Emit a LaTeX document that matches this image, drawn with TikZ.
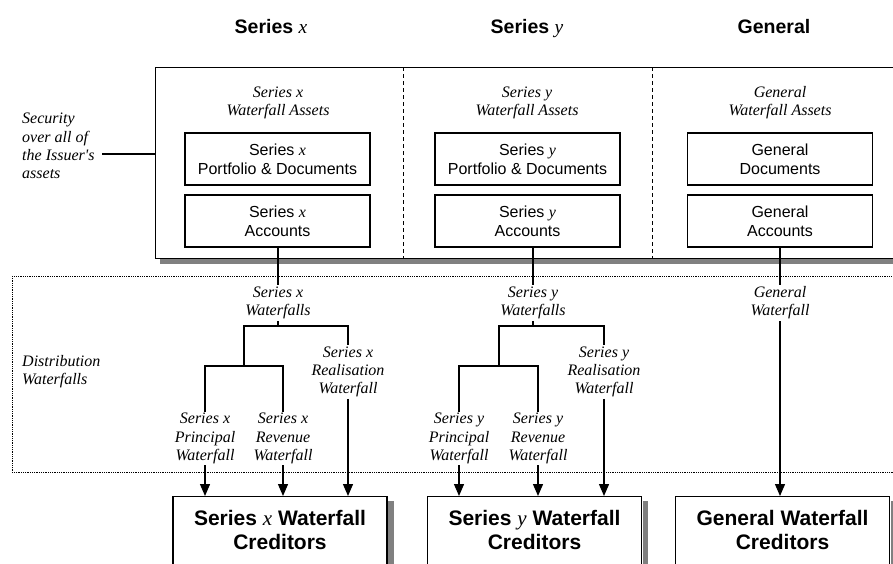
\documentclass[tikz,border=0pt]{standalone}
\usepackage{fontspec}
\setmainfont{Liberation Serif}
\setsansfont{Liberation Sans}
\setmonofont{Liberation Serif}
\usetikzlibrary{arrows.meta,calc}
\newcommand{\serx}{{\rmfamily\mdseries\itshape x}}
\newcommand{\sery}{{\rmfamily\mdseries\itshape y}}
\newcommand{\straightq}{{\ttfamily\itshape\char39}}
\definecolor{shadowgray}{gray}{0.5}
\begin{document}
\begin{tikzpicture}[x=1pt,y=-1pt,
  hdr/.style={font=\fontsize{19.5}{22}\selectfont\sffamily\bfseries, inner sep=0pt},
  lab/.style={font=\fontsize{16}{18.2}\selectfont\rmfamily\itshape, align=center, inner sep=1.5pt},
  sidelab/.style={font=\fontsize{16}{18.3}\selectfont\rmfamily\itshape, align=left, inner sep=0pt, anchor=north west},
  inbox/.style={draw, line width=1.1pt, fill=white, minimum width=185pt, minimum height=52pt, inner sep=0pt, align=center, font=\fontsize{16}{19}\selectfont\sffamily},
  credbox/.style={draw, line width=1.2pt, fill=white, minimum width=214pt, minimum height=110pt, inner sep=0pt, anchor=north},
  credtext/.style={font=\fontsize{21}{24}\selectfont\sffamily\bfseries, align=center, inner sep=0pt},
  conn/.style={line width=1.3pt},
  arr/.style={line width=1.3pt, -{Triangle[width=10pt,length=12pt]}},
  divider/.style={line width=0.9pt, dash pattern=on 4pt off 3pt},
  dotbox/.style={line width=0.8pt, dash pattern=on 0.9pt off 0.9pt}
]
\useasboundingbox (0,0) rectangle (893,563);
\clip (0,0) rectangle (893,563);

% headers
\node[hdr, anchor=base] (hx) at (271,33.5) {Series \serx};
\node[hdr, anchor=base] (hy) at (527,33.5) {Series \sery};
\node[hdr, anchor=base] (hg) at (774,33.5) {General};

% big asset box with shadow
\fill[shadowgray] (160,72) rectangle (920,263.5);
\node[draw, fill=white, line width=1.2pt, minimum width=760pt, minimum height=191pt, inner sep=0pt, anchor=north west] (big) at (155,67) {};
\draw[divider] (403,67) -- (403,258);
\draw[divider] (652,67) -- (652,258);

% distribution area
\draw[dotbox] (12,276) rectangle (920,472);

% side labels
\node[sidelab] (sec) at (22,113) {Security\\over all of\\the Issuer\straightq s\\assets};
\coordinate (secA) at (102,154);
\draw[conn] (secA) -- (secA -| big.west);
\node[sidelab] (dist) at (22,355) {Distribution\\Waterfalls};

% asset group labels
\node[lab] (ax) at (278,103) {Series x\\Waterfall Assets};
\node[lab] (ay) at (527,103) {Series y\\Waterfall Assets};
\node[lab] (ag) at (780,103) {General\\Waterfall Assets};

% inner boxes
\node[inbox] (pdx) at (277.5,159) {Series \serx\\Portfolio \& Documents};
\node[inbox] (acx) at (277.5,221) {Series \serx\\Accounts};
\node[inbox] (pdy) at (527.5,159) {Series \sery\\Portfolio \& Documents};
\node[inbox] (acy) at (527.5,221) {Series \sery\\Accounts};
\node[inbox] (gdoc) at (780,159) {General\\Documents};
\node[inbox] (gacc) at (780,221) {General\\Accounts};

% creditor boxes
\node[credbox] (cx) at (280,496) {};
\node[credbox] (cy) at (534.5,496) {};
\node[credbox] (cg) at (782.5,496) {};
\fill[shadowgray] ($(cx.north east)+(0.6,5)$) rectangle ($(cx.south east)+(6,0)$);
\fill[shadowgray] ($(cy.north east)+(0.6,5)$) rectangle ($(cy.south east)+(6,0)$);
\fill[shadowgray] ($(cg.north east)+(0.6,5)$) rectangle ($(cg.south east)+(6,0)$);
\node[credtext] (tcx) at ($(cx.north)+(0,34)$) {Series \serx{} Waterfall\\Creditors};
\node[credtext] (tcy) at ($(cy.north)+(0,34)$) {Series \sery{} Waterfall\\Creditors};
\node[credtext] (tcg) at ($(cg.north)+(0,34)$) {General Waterfall\\Creditors};

% ---- Series x waterfalls
\node[lab] (wfx) at (278,303) {Series x\\Waterfalls};
\node[lab] (rlx) at (348,372) {Series x\\Realisation\\Waterfall};
\node[lab] (prx) at (205,438.5) {Series x\\Principal\\Waterfall};
\node[lab] (rvx) at (283,438.5) {Series x\\Revenue\\Waterfall};
\coordinate (jx) at (278,326);
\coordinate (kx) at (244,366);
\draw[conn] (acx.south -| wfx) -- (wfx.north);
\draw[conn] (wfx.south) -- (jx);
\draw[conn] (rlx.north) |- (jx -| kx) -- (kx);
\draw[conn] (prx.north) |- (kx) -| (rvx.north);
\draw[arr] (prx.south) -- (prx.south |- cx.north);
\draw[arr] (rvx.south) -- (rvx.south |- cx.north);
\draw[arr] (rlx.south) -- (rlx.south |- cx.north);

% ---- Series y waterfalls
\node[lab] (wfy) at (533,303) {Series y\\Waterfalls};
\node[lab] (rly) at (604,372) {Series y\\Realisation\\Waterfall};
\node[lab] (pry) at (459,438.5) {Series y\\Principal\\Waterfall};
\node[lab] (rvy) at (538,438.5) {Series y\\Revenue\\Waterfall};
\coordinate (jy) at (533,326);
\coordinate (ky) at (499,366);
\draw[conn] (acy.south -| wfy) -- (wfy.north);
\draw[conn] (wfy.south) -- (jy);
\draw[conn] (rly.north) |- (jy -| ky) -- (ky);
\draw[conn] (pry.north) |- (ky) -| (rvy.north);
\draw[arr] (pry.south) -- (pry.south |- cy.north);
\draw[arr] (rvy.south) -- (rvy.south |- cy.north);
\draw[arr] (rly.south) -- (rly.south |- cy.north);

% ---- General waterfall
\node[lab] (gwf) at (780,303) {General\\Waterfall};
\draw[conn] (gacc.south) -- (gwf.north);
\draw[arr] (gwf.south) -- (gwf.south |- cg.north);
\end{tikzpicture}
\end{document}
